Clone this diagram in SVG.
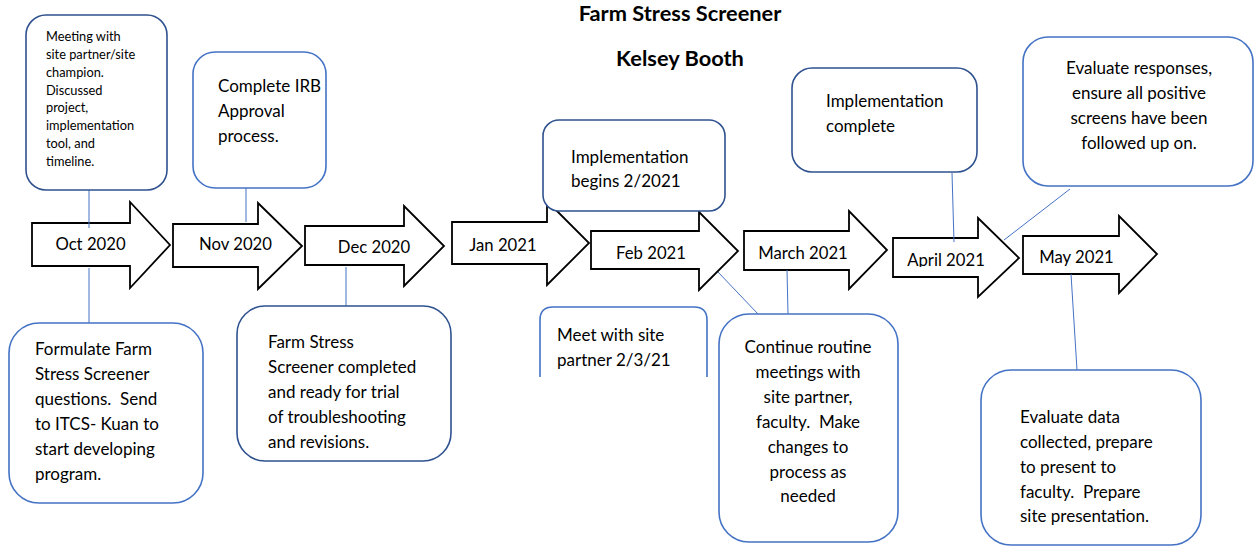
<svg xmlns="http://www.w3.org/2000/svg" width="1254" height="546" viewBox="0 0 1254 546">
<style>
  .bg{fill:#ffffff}
  .box{fill:#ffffff;stroke:#4472C4;stroke-width:1.6}
  .dark{stroke:#2F528F}
  .arrow{fill:#ffffff;stroke:#000000;stroke-width:1.8;stroke-linejoin:miter}
  .conn{stroke:#4472C4;stroke-width:1;fill:none}
  text{font-family:Lato,"Open Sans","Liberation Sans",sans-serif;fill:#000000}
  .t{font-size:17px}
  .s{font-size:12.8px}
  .lab{font-size:16.7px;text-anchor:middle}
  .mid{text-anchor:middle}
  .title{font-size:21.8px;font-weight:bold;text-anchor:middle}
</style>
<defs>
  <clipPath id="clipApr"><rect x="890" y="230" width="110" height="37"/></clipPath>
</defs>
<rect class="bg" x="0" y="0" width="1254" height="546"/>

<g id="title">
  <text class="title" x="680" y="21">Farm Stress Screener</text>
  <text class="title" x="680" y="66">Kelsey Booth</text>
</g>

<g id="arrow-oct">
  <polygon class="arrow" points="32,223 130,223 130,202 170,245 130,288 130,266 32,266"/>
  <text class="lab" x="90.5" y="250">Oct 2020</text>
</g>
<g id="arrow-nov">
  <polygon class="arrow" points="173,224 258,224 258,203 302,246 258,289 258,267 173,267"/>
  <text class="lab" x="235.5" y="250">Nov 2020</text>
</g>
<g id="arrow-dec">
  <polygon class="arrow" points="305,226 404,226 404,206 444,246 404,286 404,265 305,265"/>
  <text class="lab" x="374" y="253">Dec 2020</text>
</g>
<g id="arrow-jan">
  <polygon class="arrow" points="452,222 547,222 547,201 589,243 547,285 547,264 452,264"/>
  <text class="lab" x="503" y="251">Jan 2021</text>
</g>
<g id="arrow-feb">
  <polygon class="arrow" points="591,231 699,231 699,212 738,251 699,290 699,269 591,269"/>
  <text class="lab" x="651" y="259">Feb 2021</text>
</g>
<g id="arrow-mar">
  <polygon class="arrow" points="744,231 849,231 849,211 887,250 849,289 849,270 744,270"/>
  <text class="lab" x="803" y="259">March 2021</text>
</g>
<g id="arrow-apr">
  <polygon class="arrow" points="893,238 978,238 978,218 1019,258 978,297 978,277 893,277"/>
  <text class="lab" x="946" y="266" clip-path="url(#clipApr)">April 2021</text>
</g>
<g id="arrow-may">
  <polygon class="arrow" points="1023,236 1119,236 1119,216 1157,254 1119,293 1119,274 1023,274"/>
  <text class="lab" x="1076.5" y="263">May 2021</text>
</g>

<g id="connectors">
  <line class="conn" x1="89" y1="190" x2="89" y2="228"/>
  <line class="conn" x1="89" y1="268" x2="89" y2="324"/>
  <line class="conn" x1="246" y1="188" x2="246" y2="222"/>
  <line class="conn" x1="346" y1="267" x2="346" y2="306"/>
  <line class="conn" x1="718" y1="272" x2="758" y2="314"/>
  <line class="conn" x1="787" y1="270" x2="788" y2="314"/>
  <line class="conn" x1="952" y1="173" x2="954" y2="242"/>
  <line class="conn" x1="1070" y1="189" x2="1004" y2="240"/>
  <line class="conn" x1="1071" y1="274" x2="1077" y2="370"/>
</g>

<g id="box-meeting">
  <rect class="box dark" x="26" y="15" width="141" height="175" rx="20"/>
  <text class="s" x="46" y="40.5">Meeting with</text>
  <text class="s" x="46" y="58.5">site partner/site</text>
  <text class="s" x="46" y="76.5">champion.</text>
  <text class="s" x="46" y="94.5">Discussed</text>
  <text class="s" x="46" y="112">project,</text>
  <text class="s" x="46" y="130">implementation</text>
  <text class="s" x="46" y="148">tool, and</text>
  <text class="s" x="46" y="166">timeline.</text>
</g>

<g id="box-irb">
  <rect class="box" x="193" y="52" width="133" height="136" rx="22"/>
  <text class="t" x="218" y="92">Complete IRB</text>
  <text class="t" x="218" y="117">Approval</text>
  <text class="t" x="218" y="142">process.</text>
</g>

<g id="box-formulate">
  <rect class="box" x="9" y="323" width="194" height="180" rx="30"/>
  <text class="t" x="35" y="355">Formulate Farm</text>
  <text class="t" x="35" y="380">Stress Screener</text>
  <text class="t" x="35" y="405" xml:space="preserve">questions.  Send</text>
  <text class="t" x="35" y="430">to ITCS- Kuan to</text>
  <text class="t" x="35" y="455">start developing</text>
  <text class="t" x="35" y="480">program.</text>
</g>

<g id="box-completed">
  <rect class="box dark" x="237" y="306" width="214" height="155" rx="28"/>
  <text class="t" x="268" y="348">Farm Stress</text>
  <text class="t" x="268" y="373">Screener completed</text>
  <text class="t" x="268" y="398">and ready for trial</text>
  <text class="t" x="268" y="423">of troubleshooting</text>
  <text class="t" x="268" y="448">and revisions.</text>
</g>

<g id="box-impl-begins">
  <rect class="box dark" x="543" y="120" width="182" height="91" rx="16"/>
  <text class="t" x="571" y="163">Implementation</text>
  <text class="t" x="571" y="187">begins 2/2021</text>
</g>

<g id="box-meet-site">
  <path class="box" d="M540,377 V320 Q540,307 553,307 H694 Q707,307 707,320 V377"/>
  <text class="t" x="557" y="341">Meet with site</text>
  <text class="t" x="557" y="366">partner 2/3/21</text>
</g>

<g id="box-continue">
  <rect class="box" x="719" y="314" width="179" height="228" rx="30"/>
  <text class="t mid" x="808" y="353">Continue routine</text>
  <text class="t mid" x="808" y="378">meetings with</text>
  <text class="t mid" x="808" y="403">site partner,</text>
  <text class="t mid" x="808" y="428" xml:space="preserve">faculty.  Make</text>
  <text class="t mid" x="808" y="453">changes to</text>
  <text class="t mid" x="808" y="478">process as</text>
  <text class="t mid" x="808" y="502">needed</text>
</g>

<g id="box-impl-complete">
  <rect class="box dark" x="792" y="68" width="185" height="104" rx="20"/>
  <text class="t" x="826" y="107">Implementation</text>
  <text class="t" x="826" y="132">complete</text>
</g>

<g id="box-eval-responses">
  <rect class="box" x="1023" y="37" width="230" height="149" rx="25"/>
  <text class="t mid" x="1139" y="74">Evaluate responses,</text>
  <text class="t mid" x="1139" y="99">ensure all positive</text>
  <text class="t mid" x="1139" y="124">screens have been</text>
  <text class="t mid" x="1139" y="149">followed up on.</text>
</g>

<g id="box-eval-data">
  <rect class="box" x="981" y="370" width="220" height="175" rx="30"/>
  <text class="t" x="1020" y="423">Evaluate data</text>
  <text class="t" x="1020" y="448">collected, prepare</text>
  <text class="t" x="1020" y="473">to present to</text>
  <text class="t" x="1020" y="498" xml:space="preserve">faculty.  Prepare</text>
  <text class="t" x="1020" y="522">site presentation.</text>
</g>
</svg>
